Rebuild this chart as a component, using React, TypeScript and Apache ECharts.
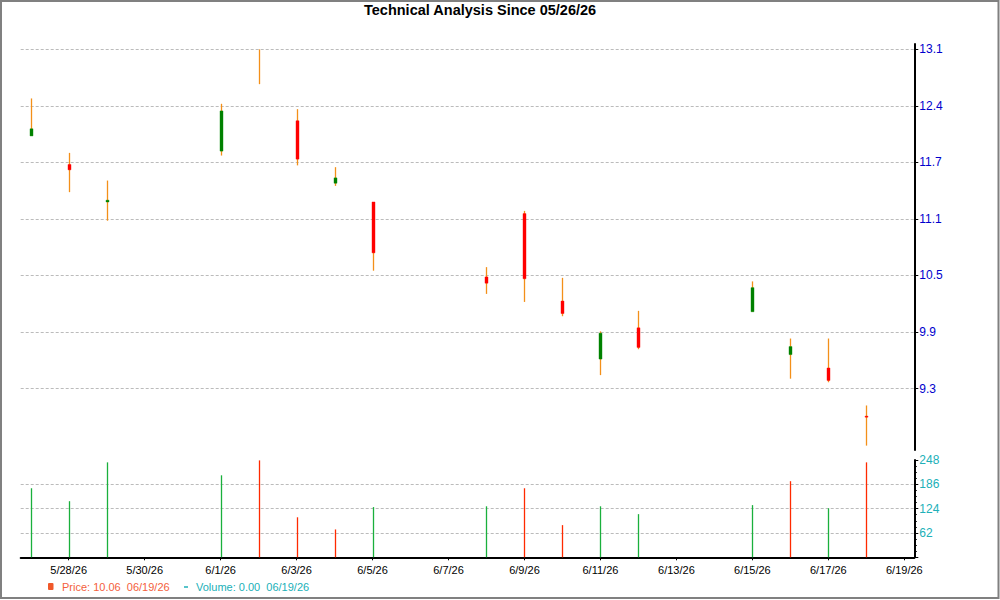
import React, { useEffect, useRef } from "react";
import * as echarts from "echarts";

const FONT = "Arial, 'Liberation Sans', sans-serif";

// trading days shown on the chart
const dates = ["5/27/26", "5/28/26", "5/29/26", "6/1/26", "6/2/26", "6/3/26", "6/4/26", "6/5/26", "6/8/26", "6/9/26", "6/10/26", "6/11/26", "6/12/26", "6/15/26", "6/16/26", "6/17/26", "6/18/26"];
const opens = [12.13, 11.81, 11.39, 11.96, 13.1, 12.3, 11.6, 11.39, 10.55, 11.26, 10.28, 9.63, 9.98, 10.16, 9.68, 9.53, 8.99];
const closes = [12.21, 11.75, 11.41, 12.41, 13.1, 11.87, 11.66, 10.82, 10.48, 10.53, 10.14, 9.92, 9.76, 10.43, 9.77, 9.39, 8.98];
const lows = [12.13, 11.5, 11.18, 11.91, 12.71, 11.8, 11.57, 10.62, 10.36, 10.27, 10.11, 9.45, 9.74, 10.16, 9.41, 9.37, 8.66];
const highs = [12.55, 11.94, 11.63, 12.49, 13.1, 12.43, 11.78, 11.39, 10.66, 11.29, 10.54, 9.94, 10.17, 10.5, 9.86, 9.86, 9.11];
const volumes = [176, 143, 242, 209, 247, 102, 71, 128, 130, 176, 82, 130, 110, 133, 194, 125, 242];
const volumeUp = [true, true, true, true, false, false, false, true, true, false, false, true, true, true, false, true, false];

// axis labels
const xTickLabels = ["5/28/26", "5/30/26", "6/1/26", "6/3/26", "6/5/26", "6/7/26", "6/9/26", "6/11/26", "6/13/26", "6/15/26", "6/17/26", "6/19/26"];
const priceTickLabels = ["9.3", "9.9", "10.5", "11.1", "11.7", "12.4", "13.1"];
const PRICE_LO = 9.3;
const PRICE_STEP = (13.1 - 9.3) / 6;

const dayIndex = (s: string) => {
  const [m, d, y] = s.split("/").map(Number);
  const [m0, d0, y0] = dates[0].split("/").map(Number);
  return (Date.UTC(2000 + y, m - 1, d) - Date.UTC(2000 + y0, m0 - 1, d0)) / 86400000;
};

const xTickValues = xTickLabels.map(dayIndex);
const priceTickValues = priceTickLabels.map((_, i) => PRICE_LO + i * PRICE_STEP);

const X_MIN = -0.263;
const X_MAX = 23.263;

const App: React.FC = () => {
  const chartRef = useRef<HTMLDivElement>(null);

  useEffect(() => {
    if (!chartRef.current) return;
    const chart = echarts.init(chartRef.current, undefined, { renderer: "svg" });

    const candleData = dates.map((d, i) => [dayIndex(d), opens[i], closes[i], lows[i], highs[i]]);
    const volumeData = dates.map((d, i) => [dayIndex(d), volumes[i], volumeUp[i] ? 1 : 0]);

    const gridLine = { show: true, lineStyle: { color: "#bbbbbb", type: [3, 2], width: 1 } };

    const option = {
      animation: false,
      textStyle: { fontFamily: FONT },
      title: {
        text: "Technical Analysis Since 05/26/26",
        left: 364,
        top: 2,
        padding: 0,
        textStyle: { fontSize: 14.5, fontWeight: "bold", color: "#000", fontFamily: FONT },
      },
      grid: [
        { left: 20.7, right: 85.7, top: 44, height: 406 },
        { left: 20.7, right: 85.7, top: 460, height: 97.3 },
      ],
      xAxis: [
        { type: "value", gridIndex: 0, min: X_MIN, max: X_MAX, show: false, splitLine: { show: false } },
        {
          type: "value",
          gridIndex: 1,
          min: X_MIN,
          max: X_MAX,
          axisLine: { show: true, onZero: false, lineStyle: { color: "#000", width: 2 } },
          axisTick: { show: true, customValues: xTickValues, length: 3, lineStyle: { color: "#000" } },
          axisLabel: {
            customValues: xTickValues,
            formatter: (v: number) => {
              const i = xTickValues.findIndex((t) => Math.abs(t - v) < 0.01);
              return i >= 0 ? xTickLabels[i] : "";
            },
            fontSize: 11,
            color: "#000",
            margin: 7,
          },
          splitLine: { show: false },
        },
      ],
      yAxis: [
        {
          type: "value",
          gridIndex: 0,
          position: "right",
          min: 8.611,
          max: 13.16,
          axisLine: { show: true, onZero: false, lineStyle: { color: "#000", width: 2 } },
          axisTick: { show: true, length: 4, customValues: priceTickValues, lineStyle: { color: "#000" } },
          axisLabel: {
            customValues: priceTickValues,
            formatter: (v: number) => priceTickLabels[Math.round((v - PRICE_LO) / PRICE_STEP)] ?? "",
            color: "#0000cd",
            fontSize: 12,
            margin: 5,
          },
          splitLine: gridLine,
        },
        {
          type: "value",
          gridIndex: 1,
          position: "right",
          min: 0,
          max: 248,
          interval: 62,
          axisLine: { show: true, onZero: false, lineStyle: { color: "#000", width: 2 } },
          axisTick: { show: true, length: 4, lineStyle: { color: "#000" } },
          minorTick: { show: true, splitNumber: 4, length: 2.5, lineStyle: { color: "#000" } },
          axisLabel: {
            color: "#20b0b8",
            fontSize: 12,
            margin: 5,
            formatter: (v: number) => (v === 0 ? "" : String(v)),
          },
          splitLine: { ...gridLine, showMinLine: false, showMaxLine: false },
        },
      ],
      series: [
        {
          type: "custom",
          xAxisIndex: 0,
          yAxisIndex: 0,
          data: candleData,
          encode: { x: 0, y: [1, 2, 3, 4] },
          renderItem: (_params: any, api: any) => {
            const x = api.value(0);
            const o = api.value(1);
            const c = api.value(2);
            const l = api.value(3);
            const h = api.value(4);
            const hi = api.coord([x, h]);
            const lo = api.coord([x, l]);
            const top = api.coord([x, Math.max(o, c)]);
            const bot = api.coord([x, Math.min(o, c)]);
            const cx = Math.round(hi[0]) + 0.5;
            const up = c >= o;
            const children: any[] = [
              {
                type: "line",
                shape: { x1: cx, y1: hi[1], x2: cx, y2: lo[1] },
                style: { stroke: "#f39019", lineWidth: 1.3 },
              },
            ];
            if (o !== c) {
              children.push({
                type: "rect",
                shape: { x: cx - 1.5, y: top[1], width: 3, height: Math.max(bot[1] - top[1], 1) },
                style: {
                  fill: up ? "#008000" : "#ff0000",
                  stroke: up ? "rgba(0,140,0,0.4)" : "rgba(255,0,0,0.4)",
                  lineWidth: 1,
                },
              });
            }
            return { type: "group", children };
          },
        },
        {
          type: "custom",
          xAxisIndex: 1,
          yAxisIndex: 1,
          data: volumeData,
          encode: { x: 0, y: 1 },
          renderItem: (_params: any, api: any) => {
            const x = api.value(0);
            const v = api.value(1);
            const base = api.coord([x, 0]);
            const tip = api.coord([x, v]);
            const cx = Math.round(base[0]) + 0.5;
            return {
              type: "line",
              shape: { x1: cx, y1: base[1], x2: cx, y2: tip[1] },
              style: { stroke: api.value(2) ? "#1ab03c" : "#ff2a00", lineWidth: 1.3 },
            };
          },
        },
      ],
      graphic: [
        {
          type: "rect",
          silent: true,
          z: 100,
          shape: { x: 1, y: 1, width: 997.5, height: 597 },
          style: { fill: "none", stroke: "#808080", lineWidth: 2 },
        },
        {
          type: "rect",
          shape: { x: 48, y: 583, width: 5.5, height: 7, r: 1 },
          style: { fill: "#f0582a" },
        },
        {
          type: "text",
          x: 62,
          y: 587,
          style: {
            text: "Price: 10.06  06/19/26",
            fill: "#f4603c",
            fontSize: 11,
            fontFamily: FONT,
            verticalAlign: "middle",
          },
        },
        {
          type: "line",
          shape: { x1: 184, y1: 587, x2: 188, y2: 587 },
          style: { stroke: "#20b0b8", lineWidth: 1.5 },
        },
        {
          type: "text",
          x: 196,
          y: 587,
          style: {
            text: "Volume: 0.00  06/19/26",
            fill: "#20b0b8",
            fontSize: 11,
            fontFamily: FONT,
            verticalAlign: "middle",
          },
        },
      ],
    };

    chart.setOption(option as any);

    return () => {
      chart.dispose();
    };
  }, []);

  return (
    <div
      ref={chartRef}
      style={{ position: "fixed", left: 0, top: 0, width: "1000px", height: "600px", background: "#fff" }}
    />
  );
};

export default App;
